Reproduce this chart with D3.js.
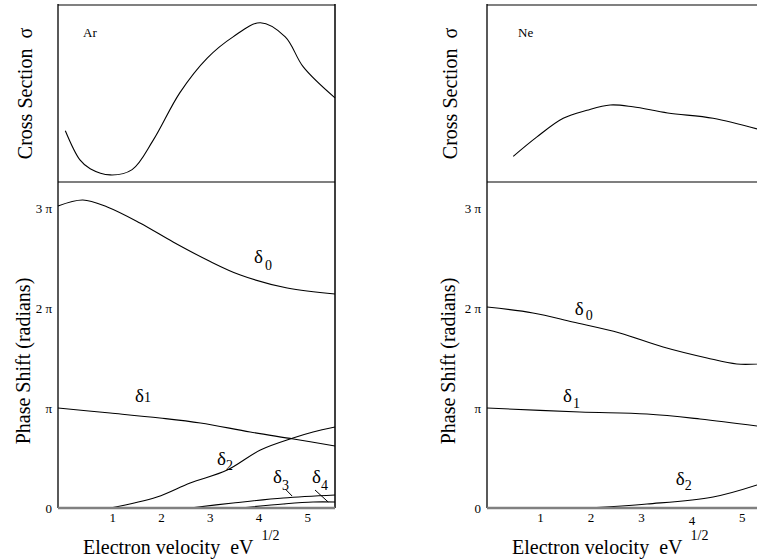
<!DOCTYPE html>
<html>
<head>
<meta charset="utf-8">
<script src="https://cdn.jsdelivr.net/npm/d3@7"></script>
<style>
  body { margin: 0; background: #fff; }
  svg text { font-family: "Liberation Serif", "Times New Roman", Times, serif !important; fill: #000; }
</style>
</head>
<body>
<script>
// ---- data (x = electron velocity in eV^1/2, phase shifts in units of pi) ----
const velocityTicks = [1, 2, 3, 4, 5];
const phaseTicks = [0, 1, 2, 3];
const phaseTickLabels = ['0', 'π', '2 π', '3 π'];

// cross sections, arbitrary units
const arCross = [[0.04, 5.8], [0.34, 2.5], [0.55, 1.5], [0.96, 0.8], [1.41, 1.4], [1.84, 4.7],
  [2.39, 10.1], [2.95, 14.0], [3.48, 16.4], [4.04, 18.0], [4.55, 16.4], [4.92, 13.0], [5.57, 9.5]];
const neCross = [[0.47, 2.9], [0.94, 5.1], [1.46, 7.2], [1.93, 8.1], [2.39, 8.7], [2.84, 8.5],
  [3.53, 7.8], [4.43, 7.2], [5.30, 6.0]];

// argon phase shifts
const arDelta0 = [[-0.11, 3.02], [0.40, 3.08], [0.90, 3.01], [1.57, 2.85], [2.25, 2.66],
  [2.95, 2.48], [3.63, 2.33], [4.59, 2.20], [5.57, 2.14]];
const arDelta1 = [[-0.11, 1.00], [0.96, 0.95], [1.98, 0.90], [2.81, 0.85], [3.83, 0.76],
  [4.72, 0.69], [5.57, 0.62]];
const arDelta2 = [[0.96, 0], [1.92, 0.11], [2.60, 0.25], [3.36, 0.38], [4.04, 0.58],
  [4.71, 0.70], [5.12, 0.76], [5.57, 0.81]];
const arDelta3 = [[2.60, 0], [3.48, 0.05], [4.51, 0.10], [5.57, 0.13]];
const arDelta4 = [[3.63, 0], [4.51, 0.04], [5.12, 0.06], [5.57, 0.06]];

// neon phase shifts
const neDelta0 = [[-0.05, 2.01], [0.86, 1.95], [1.65, 1.86], [2.58, 1.75], [3.44, 1.61],
  [4.31, 1.50], [4.90, 1.44], [5.30, 1.44]];
const neDelta1 = [[-0.05, 1.00], [1.79, 0.96], [3.12, 0.94], [4.17, 0.89], [5.30, 0.82]];
const neDelta2 = [[1.93, 0], [3.12, 0.04], [4.43, 0.11], [5.30, 0.23]];

// ---- layout ----
const WIDTH = 757;
const HEIGHT = 559;
const TOP = 5;
const MID = 182;
const BOTTOM = 508;
const SERIF = '"Liberation Serif", "Times New Roman", Times, serif';

const SVG = d3.select('body').append('svg')
  .attr('width', WIDTH).attr('height', HEIGHT)
  .attr('font-family', SERIF);

const PHASE_SCALE = d3.scaleLinear().domain([0, 3.26]).range([BOTTOM, MID]);
const CROSS_SCALE = d3.scaleLinear().domain([0, 20]).range([MID, TOP]);

const panels = [
  {
    name: 'Ar', nameX: 83, left: 58, right: 335, domain: [-0.11, 5.57], labelX: 32, cross: arCross,
    deltas: [arDelta0, arDelta1, arDelta2, arDelta3, arDelta4],
    // label anchors in data units
    labels: [
      { d: '0', x: 3.91, y: 2.45, dx: 2, dy: 7 },
      { d: '1', x: 1.47, y: 1.06, dx: 0, dy: 0 },
      { d: '2', x: 3.15, y: 0.43, dx: 0, dy: 5 },
      { d: '3', x: 4.30, y: 0.25, dx: 0, dy: 7 },
      { d: '4', x: 5.10, y: 0.25, dx: 0, dy: 7 }
    ],
    leaders: [[[4.55, 0.19], [4.69, 0.12]], [[5.16, 0.18], [5.43, 0.06]]],
    xLabelX: 83
  },
  {
    name: 'Ne', nameX: 518, left: 487, right: 757, domain: [-0.05, 5.30], labelX: 457, cross: neCross,
    deltas: [neDelta0, neDelta1, neDelta2],
    labels: [
      { d: '0', x: 1.69, y: 1.93, dx: 2, dy: 5 },
      { d: '1', x: 1.455, y: 1.06, dx: 1, dy: 6 },
      { d: '2', x: 3.69, y: 0.23, dx: 0, dy: 5 }
    ],
    leaders: [],
    lowTick: 4,
    xLabelX: 512
  }
];

function buildPanel(cfg) {
  const g = SVG.append('g');
  const X_SCALE = d3.scaleLinear().domain(cfg.domain).range([cfg.left, cfg.right]);

  // box (right border of the Ne panel falls outside the picture)
  const edge = cfg.right + (cfg.name === 'Ne' ? 3 : 0);
  g.append('line').attr('x1', cfg.left).attr('x2', edge).attr('y1', TOP).attr('y2', TOP)
    .attr('stroke', '#808080').attr('stroke-width', 2);
  g.append('line').attr('x1', cfg.left).attr('x2', edge).attr('y1', MID).attr('y2', MID)
    .attr('stroke', '#000').attr('stroke-width', 1.2);
  g.append('line').attr('x1', cfg.left).attr('x2', cfg.left).attr('y1', TOP - 1).attr('y2', BOTTOM)
    .attr('stroke', '#000').attr('stroke-width', 1.3);
  g.append('line').attr('x1', edge).attr('x2', edge).attr('y1', TOP - 1).attr('y2', BOTTOM)
    .attr('stroke', '#000').attr('stroke-width', 1.5);

  const line = d3.line()
    .x((d) => X_SCALE(d[0]))
    .curve(d3.curveCatmullRom.alpha(0.5));

  g.append('path')
    .datum(cfg.cross)
    .attr('d', line.y((d) => CROSS_SCALE(d[1])))
    .attr('fill', 'none').attr('stroke', '#000').attr('stroke-width', 1.1);

  g.selectAll('.delta')
    .data(cfg.deltas)
    .enter()
    .append('path')
    .attr('class', 'delta')
    .attr('d', (d) => line.y((p) => PHASE_SCALE(p[1]))(d))
    .attr('fill', 'none').attr('stroke', '#000').attr('stroke-width', 1.1);

  g.selectAll('.leader')
    .data(cfg.leaders)
    .enter()
    .append('line')
    .attr('x1', (d) => X_SCALE(d[0][0])).attr('y1', (d) => PHASE_SCALE(d[0][1]))
    .attr('x2', (d) => X_SCALE(d[1][0])).attr('y2', (d) => PHASE_SCALE(d[1][1]))
    .attr('stroke', '#000').attr('stroke-width', 1);

  // delta labels
  const lbl = g.selectAll('.dlabel')
    .data(cfg.labels)
    .enter()
    .append('text')
    .attr('class', 'dlabel')
    .attr('x', (d) => X_SCALE(d.x))
    .attr('y', (d) => PHASE_SCALE(d.y))
    .attr('font-size', '19px');
  lbl.append('tspan').text('δ');
  lbl.append('tspan').attr('dx', (d) => d.dx).attr('dy', (d) => d.dy)
    .attr('font-size', '14px').text((d) => d.d);

  // x axis
  const xAxis = g.append('g')
    .attr('transform', 'translate(0,' + BOTTOM + ')')
    .call(d3.axisBottom(X_SCALE).tickValues(velocityTicks).tickSize(0).tickSizeOuter(0).tickPadding(5)
      .tickFormat(d3.format('d')));
  xAxis.attr('font-family', SERIF).attr('font-size', 13);
  xAxis.select('.domain').attr('stroke', '#808080').attr('stroke-width', 2.5)
    .attr('d', 'M' + cfg.left + ',0H' + edge);
  if (cfg.lowTick) {
    xAxis.selectAll('.tick text').filter((d) => d === cfg.lowTick).attr('dy', '0.95em');
  }

  // y axis (phase)
  const yAxis = g.append('g')
    .attr('transform', 'translate(' + cfg.left + ',0)')
    .call(d3.axisLeft(PHASE_SCALE).tickValues(phaseTicks).tickSize(0).tickPadding(6)
      .tickFormat((d, i) => phaseTickLabels[i]));
  yAxis.attr('font-family', SERIF).attr('font-size', 13);
  yAxis.select('.domain').remove();

  // titles
  g.append('text').attr('x', cfg.nameX).attr('y', 37).attr('font-size', '13px').text(cfg.name);

  g.append('text')
    .attr('transform', 'translate(' + cfg.labelX + ',' + (TOP + MID) / 2 + ') rotate(-90)')
    .attr('text-anchor', 'middle').attr('font-size', '20px')
    .text('Cross Section \u00a0σ');

  g.append('text')
    .attr('transform', 'translate(' + (cfg.labelX - 2) + ',361) rotate(-90)')
    .attr('text-anchor', 'middle').attr('font-size', '20px')
    .text('Phase Shift (radians)');

  const xl = g.append('text').attr('x', cfg.xLabelX).attr('y', 554).attr('font-size', '20px');
  xl.append('tspan').text('Electron velocity \u00a0eV');
  xl.append('tspan').attr('dx', 8).attr('dy', -14).attr('font-size', '14px').text('1/2');
}

panels.forEach(buildPanel);
</script>
</body>
</html>
